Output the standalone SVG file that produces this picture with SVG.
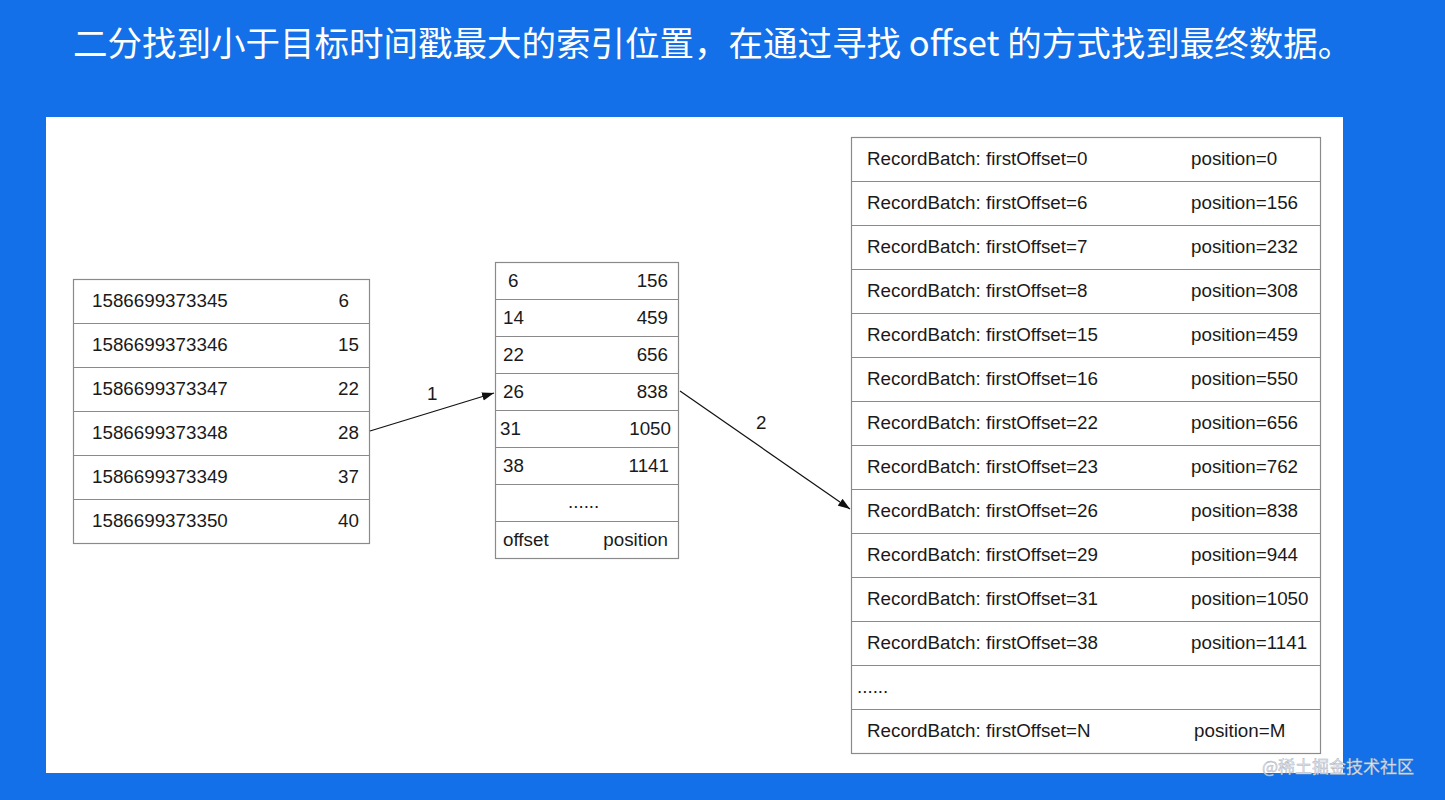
<svg xmlns="http://www.w3.org/2000/svg" width="1445" height="800" viewBox="0 0 1445 800">
<defs>
<style>
.t{font-family:"Liberation Sans",Arial,sans-serif;font-size:18.8px;fill:#1a1a1a}
.e{text-anchor:end}
.cell{fill:#fff;stroke:#8a8a8a;stroke-width:1.2}
.ln{stroke:#8a8a8a;stroke-width:1.2}
.conn{stroke:#111;stroke-width:1.2;fill:none}
.title{font-family:"Noto Sans CJK SC","Noto Sans",sans-serif;font-size:34.5px;fill:#fff;font-weight:400}
.wm{font-family:"Noto Sans CJK SC",sans-serif;font-size:17px;fill:#dfe4ec;stroke:#a9b1bd;stroke-width:0.4}
</style>
<marker id="ah" viewBox="0 0 12 10" refX="12" refY="5" markerWidth="12" markerHeight="10" markerUnits="userSpaceOnUse" orient="auto">
<path d="M0,0.8 L12,5 L0,9.2 Z" fill="#111"/>
</marker>
</defs>
<rect x="0" y="0" width="1445" height="800" fill="#1470e8"/>
<text class="title" x="73" y="56">二分找到小于目标时间戳最大的索引位置，在通过寻找 offset 的方式找到最终数据。</text>
<rect x="46" y="117" width="1297" height="656" fill="#ffffff"/>

<g id="timeindex">
<rect class="cell" x="73.5" y="279.5" width="296" height="264"/>
<line class="ln" x1="73.5" y1="323.5" x2="369.5" y2="323.5"/>
<line class="ln" x1="73.5" y1="367.5" x2="369.5" y2="367.5"/>
<line class="ln" x1="73.5" y1="411.5" x2="369.5" y2="411.5"/>
<line class="ln" x1="73.5" y1="455.5" x2="369.5" y2="455.5"/>
<line class="ln" x1="73.5" y1="499.5" x2="369.5" y2="499.5"/>
<text class="t" x="92" y="307">1586699373345</text><text class="t e" x="349" y="307">6</text>
<text class="t" x="92" y="351">1586699373346</text><text class="t e" x="359" y="351">15</text>
<text class="t" x="92" y="395">1586699373347</text><text class="t e" x="359" y="395">22</text>
<text class="t" x="92" y="439">1586699373348</text><text class="t e" x="359" y="439">28</text>
<text class="t" x="92" y="483">1586699373349</text><text class="t e" x="359" y="483">37</text>
<text class="t" x="92" y="527">1586699373350</text><text class="t e" x="359" y="527">40</text>
</g>

<g id="offsetindex">
<rect class="cell" x="495.5" y="262.5" width="183" height="296"/>
<line class="ln" x1="495.5" y1="299.5" x2="678.5" y2="299.5"/>
<line class="ln" x1="495.5" y1="336.5" x2="678.5" y2="336.5"/>
<line class="ln" x1="495.5" y1="373.5" x2="678.5" y2="373.5"/>
<line class="ln" x1="495.5" y1="410.5" x2="678.5" y2="410.5"/>
<line class="ln" x1="495.5" y1="447.5" x2="678.5" y2="447.5"/>
<line class="ln" x1="495.5" y1="484.5" x2="678.5" y2="484.5"/>
<line class="ln" x1="495.5" y1="521.5" x2="678.5" y2="521.5"/>
<text class="t" x="508" y="287">6</text><text class="t e" x="668" y="287">156</text>
<text class="t" x="503" y="324">14</text><text class="t e" x="668" y="324">459</text>
<text class="t" x="503" y="361">22</text><text class="t e" x="668" y="361">656</text>
<text class="t" x="503" y="398">26</text><text class="t e" x="668" y="398">838</text>
<text class="t" x="500" y="435">31</text><text class="t e" x="671" y="435">1050</text>
<text class="t" x="503" y="472">38</text><text class="t e" x="669" y="472">1141</text>
<text class="t" x="568" y="508">......</text>
<text class="t" x="503" y="546">offset</text><text class="t e" x="668" y="546">position</text>
</g>

<g id="logsegment">
<rect class="cell" x="851.5" y="137.5" width="469" height="616"/>
<line class="ln" x1="851.5" y1="181.5" x2="1320.5" y2="181.5"/>
<line class="ln" x1="851.5" y1="225.5" x2="1320.5" y2="225.5"/>
<line class="ln" x1="851.5" y1="269.5" x2="1320.5" y2="269.5"/>
<line class="ln" x1="851.5" y1="313.5" x2="1320.5" y2="313.5"/>
<line class="ln" x1="851.5" y1="357.5" x2="1320.5" y2="357.5"/>
<line class="ln" x1="851.5" y1="401.5" x2="1320.5" y2="401.5"/>
<line class="ln" x1="851.5" y1="445.5" x2="1320.5" y2="445.5"/>
<line class="ln" x1="851.5" y1="489.5" x2="1320.5" y2="489.5"/>
<line class="ln" x1="851.5" y1="533.5" x2="1320.5" y2="533.5"/>
<line class="ln" x1="851.5" y1="577.5" x2="1320.5" y2="577.5"/>
<line class="ln" x1="851.5" y1="621.5" x2="1320.5" y2="621.5"/>
<line class="ln" x1="851.5" y1="665.5" x2="1320.5" y2="665.5"/>
<line class="ln" x1="851.5" y1="709.5" x2="1320.5" y2="709.5"/>
<text class="t" x="867" y="165">RecordBatch: firstOffset=0</text><text class="t" x="1191" y="165">position=0</text>
<text class="t" x="867" y="209">RecordBatch: firstOffset=6</text><text class="t" x="1191" y="209">position=156</text>
<text class="t" x="867" y="253">RecordBatch: firstOffset=7</text><text class="t" x="1191" y="253">position=232</text>
<text class="t" x="867" y="297">RecordBatch: firstOffset=8</text><text class="t" x="1191" y="297">position=308</text>
<text class="t" x="867" y="341">RecordBatch: firstOffset=15</text><text class="t" x="1191" y="341">position=459</text>
<text class="t" x="867" y="385">RecordBatch: firstOffset=16</text><text class="t" x="1191" y="385">position=550</text>
<text class="t" x="867" y="429">RecordBatch: firstOffset=22</text><text class="t" x="1191" y="429">position=656</text>
<text class="t" x="867" y="473">RecordBatch: firstOffset=23</text><text class="t" x="1191" y="473">position=762</text>
<text class="t" x="867" y="517">RecordBatch: firstOffset=26</text><text class="t" x="1191" y="517">position=838</text>
<text class="t" x="867" y="561">RecordBatch: firstOffset=29</text><text class="t" x="1191" y="561">position=944</text>
<text class="t" x="867" y="605">RecordBatch: firstOffset=31</text><text class="t" x="1191" y="605">position=1050</text>
<text class="t" x="867" y="649">RecordBatch: firstOffset=38</text><text class="t" x="1191" y="649">position=1141</text>
<text class="t" x="857" y="693">......</text>
<text class="t" x="867" y="737">RecordBatch: firstOffset=N</text><text class="t" x="1194" y="737">position=M</text>
</g>

<g id="connectors">
<line class="conn" x1="370" y1="431" x2="494" y2="393" marker-end="url(#ah)"/>
<text class="t" x="427" y="400">1</text>
<line class="conn" x1="680" y1="391" x2="850" y2="509" marker-end="url(#ah)"/>
<text class="t" x="756" y="429">2</text>
</g>

<text class="wm" x="1262" y="773">@稀土掘金技术社区</text>
</svg>
